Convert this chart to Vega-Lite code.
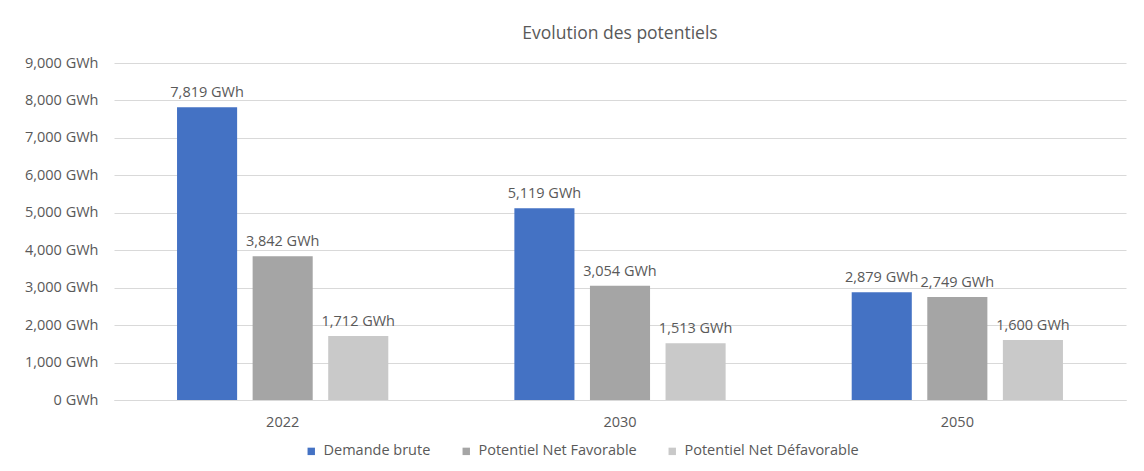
{
  "$schema": "https://vega.github.io/schema/vega-lite/v6.json",
  "autosize": {"type": "none"},
  "padding": {"left": 114, "top": 63, "right": 18, "bottom": 71},
  "width": 1012,
  "height": 337,
  "background": "white",
  "title": {"text": "Evolution des potentiels", "fontSize": 17.5, "font": "Open Sans", "fontWeight": "normal", "color": "#595959", "offset": 13, "anchor": "middle"},
  "config": {
    "view": {"stroke": null},
    "font": "Open Sans"
  },
  "data": {
    "values": [
      {"annee": "2022", "serie": "Demande brute", "valeur": 7819},
      {"annee": "2022", "serie": "Potentiel Net Favorable", "valeur": 3842},
      {"annee": "2022", "serie": "Potentiel Net Défavorable", "valeur": 1712},
      {"annee": "2030", "serie": "Demande brute", "valeur": 5119},
      {"annee": "2030", "serie": "Potentiel Net Favorable", "valeur": 3054},
      {"annee": "2030", "serie": "Potentiel Net Défavorable", "valeur": 1513},
      {"annee": "2050", "serie": "Demande brute", "valeur": 2879},
      {"annee": "2050", "serie": "Potentiel Net Favorable", "valeur": 2749},
      {"annee": "2050", "serie": "Potentiel Net Défavorable", "valeur": 1600}
    ]
  },
  "encoding": {
    "x": {
      "field": "annee", "type": "nominal",
      "scale": {"paddingInner": 0, "paddingOuter": 0},
      "axis": {"title": null, "labelAngle": 0, "ticks": false, "domain": true, "domainColor": "#D9D9D9", "labelColor": "#595959", "labelFontSize": 14.5, "labelPadding": 15}
    },
    "xOffset": {
      "field": "serie", "type": "nominal",
      "sort": ["Demande brute", "Potentiel Net Favorable", "Potentiel Net Défavorable"],
      "scale": {"paddingInner": 0.205, "paddingOuter": 0.834}
    },
    "y": {
      "field": "valeur", "type": "quantitative",
      "scale": {"domain": [0, 9000]},
      "axis": {"title": null, "values": [0,1000,2000,3000,4000,5000,6000,7000,8000,9000], "labelOverlap": false, "domain": false, "ticks": false, "gridColor": "#D9D9D9", "labelColor": "#595959", "labelFontSize": 14.5, "labelPadding": 16, "labelExpr": "format(datum.value, ',') + ' GWh'"}
    }
  },
  "layer": [
    {
      "mark": {"type": "bar"},
      "encoding": {
        "color": {
          "field": "serie", "type": "nominal",
          "sort": ["Demande brute", "Potentiel Net Favorable", "Potentiel Net Défavorable"],
          "scale": {"domain": ["Demande brute", "Potentiel Net Favorable", "Potentiel Net Défavorable"], "range": ["#4472C4", "#A5A5A5", "#C9C9C9"]},
          "legend": {"title": null, "orient": "none", "legendX": 190, "legendY": 381, "padding": 0, "direction": "horizontal", "symbolType": "square", "symbolSize": 55, "symbolStrokeWidth": 0, "labelColor": "#595959", "labelFontSize": 14.5, "labelOffset": 5, "columnPadding": 28, "labelLimit": 300}
        }
      }
    },
    {
      "mark": {"type": "text", "dy": -14, "fontSize": 14.5, "color": "#595959", "text": {"expr": "format(datum.valeur, ',') + ' GWh'"}},
      "encoding": {
        "detail": {"field": "serie"}
      }
    }
  ]
}
